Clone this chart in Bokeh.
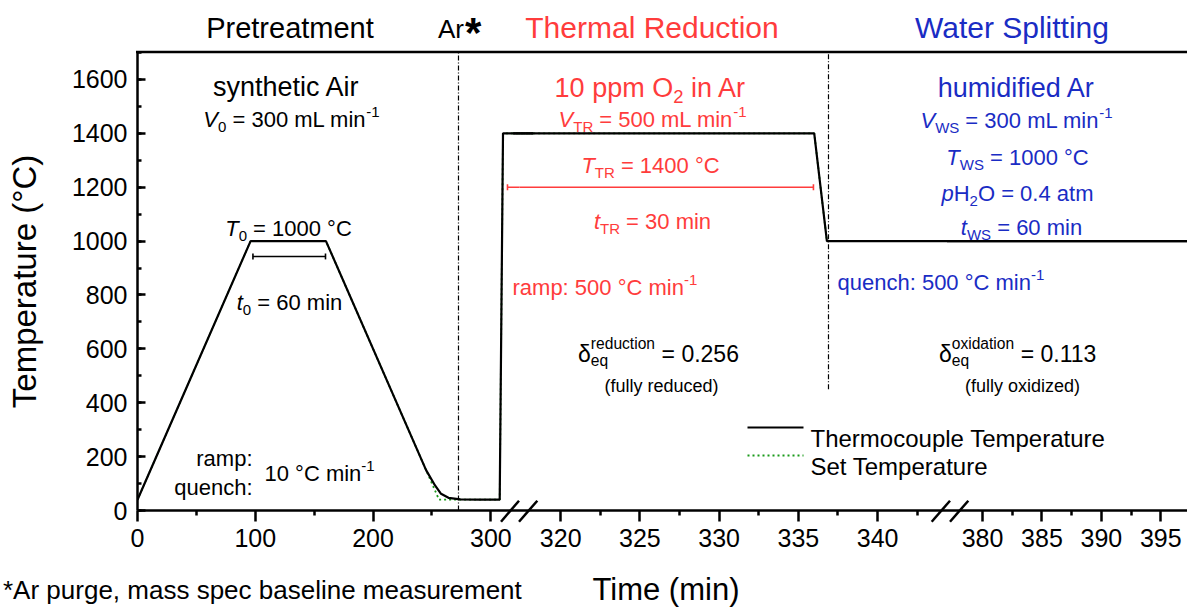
import math
from bokeh.plotting import figure
from bokeh.models import (Range1d, FixedTicker, CustomJSTickFormatter, Label,
                          SingleIntervalTicker, GridBox, Div)
from bokeh.embed import file_html
from bokeh.resources import INLINE

# ---------------- data ----------------
time_min = [0, 96, 160, 245, 252.6, 257.7, 264, 274, 290, 307.5, 310.3, 317, 336.0, 336.8, 377, 397.5]
thermocouple_C = [40, 1000, 1000, 150, 93, 62, 47, 41, 40, 40, 1400, 1400, 1400, 1000, 1000, 1000]
set_time_min = [0, 96, 160, 256, 307.5, 310.3, 317, 336.0, 336.8, 377, 397.5]
set_C = [40, 1000, 1000, 40, 40, 1400, 1400, 1400, 1000, 1000, 1000]

# broken time axis: three windows (minutes)
segment_windows = [(0.0, 324.3), (317.4, 344.6), (377.3, 397.25)]
major_ticks = [[0, 100, 200, 300], [320, 325, 330, 335, 340], [380, 385, 390, 395]]
minor_ticks = [[50, 150, 250], [322.5, 327.5, 332.5, 337.5, 342.5], [382.5, 387.5, 392.5]]

# phase markers (minutes)
ar_purge_end = 272.5
reduction_end = 336.9
t0_bar = (98.0, 159.6, 943)
tTR_bar = (314.1, 335.95, 1200)

RED = "#ff3c3c"
BLUE = "#1a2cc4"
FONT = "Liberation Sans"

# ---------------- layout geometry (canvas pixels) ----------------
W, H = 1187, 607
FL, FR, FT, FB = 137, 1187, 52, 510
segment_px = [(137, 519), (519, 950), (950, 1187)]
YMAX = 1700


def T_of(py):
    return (FB - py) * YMAX / (FB - FT)


p = figure(width=W, height=H, x_range=Range1d(FL, FR), y_range=Range1d(0, YMAX),
           output_backend="svg", toolbar_location=None,
           min_border_left=FL, min_border_right=0, min_border_top=FT, min_border_bottom=H - FB)
p.outline_line_color = None
p.grid.visible = False
p.background_fill_color = "white"

# ---------------- axes ----------------
yax = p.yaxis[0]
yax.ticker = SingleIntervalTicker(interval=200, num_minor_ticks=2)
yax.major_label_text_font = FONT
yax.major_label_text_font_size = "25px"
yax.major_label_text_color = "black"
yax.axis_line_width = 2.5
yax.major_tick_in = 8
yax.major_tick_out = 0
yax.minor_tick_in = 4
yax.minor_tick_out = 0
yax.major_tick_line_width = 2.5
yax.minor_tick_line_width = 2.5
yax.major_label_standoff = 10
yax.axis_label = "Temperature (°C)"
yax.axis_label_text_font = FONT
yax.axis_label_text_font_size = "33px"
yax.axis_label_text_font_style = "normal"
yax.axis_label_text_color = "black"
yax.axis_label_standoff = 26


def to_px(t, k):
    t0, t1 = segment_windows[k]
    x0, x1 = segment_px[k]
    return x0 + (t - t0) * (x1 - x0) / (t1 - t0)


maj = [to_px(t, k) for k in range(3) for t in major_ticks[k]]
mnr = [to_px(t, k) for k in range(3) for t in minor_ticks[k]]
xax = p.xaxis[0]
xax.ticker = FixedTicker(ticks=maj, minor_ticks=mnr)
segs_js = [[segment_windows[k][0], segment_windows[k][1], segment_px[k][0], segment_px[k][1]] for k in range(3)]
xax.formatter = CustomJSTickFormatter(code="""
const segs = %s;
for (const s of segs) {
  if (tick >= s[2] - 0.5 && tick < s[3]) {
    const t = s[0] + (tick - s[2]) * (s[1] - s[0]) / (s[3] - s[2]);
    return String(Math.round(t));
  }
}
return "";
""" % segs_js)
xax.major_label_text_font = FONT
xax.major_label_text_font_size = "25px"
xax.major_label_text_color = "black"
xax.axis_line_width = 2.5
xax.major_tick_in = 0
xax.major_tick_out = 11
xax.minor_tick_in = 0
xax.minor_tick_out = 5
xax.major_tick_line_width = 2.5
xax.minor_tick_line_width = 2.5
xax.major_label_standoff = 7

# ---------------- data through sub-coordinate systems ----------------
subs = []
for k in range(3):
    t0, t1 = segment_windows[k]
    x0, x1 = segment_px[k]
    subs.append(p.subplot(x_source=Range1d(t0, t1), y_source=p.y_range,
                          x_target=Range1d(x0, x1), y_target=p.y_range))


def window(ts, vs, t0, t1):
    idx = set()
    for i in range(len(ts) - 1):
        if max(ts[i], t0) < min(ts[i + 1], t1):
            idx.update((i, i + 1))
    idx = sorted(idx)
    return [ts[i] for i in idx], [vs[i] for i in idx]


for k, sub in enumerate(subs):
    t0, t1 = segment_windows[k]
    xs, ys = window(set_time_min, set_C, t0, t1)
    sub.line(xs, ys, line_color="#1a9a1a", line_width=1.8, line_dash="2 3")
for k, sub in enumerate(subs):
    t0, t1 = segment_windows[k]
    xs, ys = window(time_min, thermocouple_C, t0, t1)
    sub.line(xs, ys, line_color="black", line_width=2.2)

# phase separators
subs[0].segment(x0=[ar_purge_end], y0=[0], x1=[ar_purge_end], y1=[YMAX],
                line_color="black", line_width=1.2, line_dash="5 2 1 2")
subs[1].segment(x0=[reduction_end], y0=[450], x1=[reduction_end], y1=[YMAX],
                line_color="black", line_width=1.2, line_dash="5 2 1 2")

# duration bars
cap = 11
a, b, yb = t0_bar
subs[0].segment(x0=[a, a, b], y0=[yb, yb - cap, yb - cap], x1=[b, a, b], y1=[yb, yb + cap, yb + cap],
                line_color="black", line_width=1.6)
a, b, yb = tTR_bar
subs[0].segment(x0=[a, a], y0=[yb, yb - cap], x1=[segment_windows[0][1], a], y1=[yb, yb + cap],
                line_color=RED, line_width=1.6)
subs[1].segment(x0=[segment_windows[1][0], b], y0=[yb, yb - cap], x1=[b, b], y1=[yb, yb + cap],
                line_color=RED, line_width=1.6)

# ---------------- text helpers ----------------
AW = {' ': 278, '!': 278, '(': 333, ')': 333, '*': 389, ',': 278, '-': 333, '.': 278,
      '/': 278, ':': 278, '=': 584, '°': 400, 'δ': 556,
      'A': 667, 'B': 667, 'C': 722, 'D': 722, 'E': 667, 'F': 611, 'G': 778, 'H': 722, 'I': 278,
      'J': 500, 'K': 667, 'L': 556, 'M': 833, 'N': 722, 'O': 778, 'P': 667, 'Q': 778, 'R': 722,
      'S': 667, 'T': 611, 'U': 722, 'V': 667, 'W': 944, 'X': 667, 'Y': 667, 'Z': 611,
      'a': 556, 'b': 556, 'c': 500, 'd': 556, 'e': 556, 'f': 278, 'g': 556, 'h': 556, 'i': 222,
      'j': 222, 'k': 500, 'l': 222, 'm': 833, 'n': 556, 'o': 556, 'p': 556, 'q': 556, 'r': 333,
      's': 500, 't': 278, 'u': 556, 'v': 500, 'w': 722, 'x': 500, 'y': 500, 'z': 500}


def tw(s, size):
    return sum(AW.get(c, 556) for c in s) / 1000.0 * size


def put(text, x, py, size, color, style="normal", align="left"):
    if align == "left":
        lead = len(text) - len(text.lstrip(" "))
        x += tw(" " * lead, size)
    text = text.strip(" ")
    p.add_layout(Label(x=x, y=T_of(py), text=text, text_font=FONT, text_font_size="%.1fpx" % size,
                       text_color=color, text_font_style=style, text_align=align,
                       text_baseline="alphabetic"))


def rich(parts, x, py, size, color, align="center"):
    r = 0.68
    items = []
    total = 0.0
    for text, st in parts:
        if st == "stack":
            w = max(tw(text[0], size * r), tw(text[1], size * r))
        elif st in ("sub", "sup"):
            w = tw(text, size * r)
        else:
            w = tw(text, size)
        items.append((text, st, w))
        total += w
    cur = x - total / 2 if align == "center" else (x - total if align == "right" else x)
    for text, st, w in items:
        if st == "stack":
            put(text[0], cur, py + 0.30 * size, size * r, color)
            put(text[1], cur, py - 0.43 * size, size * r, color)
        elif st == "sub":
            put(text, cur, py + 0.34 * size, size * r, color)
        elif st == "sup":
            put(text, cur, py - 0.34 * size, size * r, color)
        elif st == "i":
            put(text, cur, py, size, color, style="italic")
        else:
            put(text, cur, py, size, color)
        cur += w


K = "black"

# pretreatment
rich([("synthetic Air", "n")], 286, 86, 27, K)
rich([("V", "i"), ("0", "sub"), (" = 300 mL min", "n"), ("-1", "sup")], 291, 119, 22, K)
rich([("T", "i"), ("0", "sub"), (" = 1000 °C", "n")], 288, 228, 22, K)
rich([("t", "i"), ("0", "sub"), (" = 60 min", "n")], 289, 302, 22, K)
put("ramp:", 252, 458, 22, K, align="right")
put("quench:", 252, 487, 22, K, align="right")
rich([("10 °C min", "n"), ("-1", "sup")], 264, 473, 22, K, align="left")

# thermal reduction
rich([("10 ppm O", "n"), ("2", "sub"), (" in Ar", "n")], 650, 87, 27, RED)
rich([("V", "i"), ("TR", "sub"), (" = 500 mL min", "n"), ("-1", "sup")], 652, 119, 22, RED)
rich([("T", "i"), ("TR", "sub"), (" = 1400 °C", "n")], 650, 165, 22, RED)
rich([("t", "i"), ("TR", "sub"), (" = 30 min", "n")], 652, 221, 22, RED)
rich([("ramp: 500 °C min", "n"), ("-1", "sup")], 512, 287, 22, RED, align="left")

# water splitting
rich([("humidified Ar", "n")], 1016, 87, 27, BLUE)
rich([("V", "i"), ("WS", "sub"), (" = 300 mL min", "n"), ("-1", "sup")], 1016, 120, 22, BLUE)
rich([("T", "i"), ("WS", "sub"), (" = 1000 °C", "n")], 1017, 157, 22, BLUE)
rich([("p", "i"), ("H", "n"), ("2", "sub"), ("O = 0.4 atm", "n")], 1017, 193, 22, BLUE)
rich([("t", "i"), ("WS", "sub"), (" = 60 min", "n")], 1021, 227, 22, BLUE)
rich([("quench: 500 °C min", "n"), ("-1", "sup")], 837, 282, 22, BLUE, align="left")

# equilibrium nonstoichiometry
rich([("δ", "n"), (("eq", "reduction"), "stack"), (" = 0.256", "n")], 658, 353, 23, K)
put("(fully reduced)", 661, 385, 18, K, align="center")
rich([("δ", "n"), (("eq", "oxidation"), "stack"), (" = 0.113", "n")], 1018, 353, 23, K)
put("(fully oxidized)", 1022, 385, 18, K, align="center")

# legend
p.line([747, 803], [T_of(427), T_of(427)], line_color="black", line_width=2)
p.line([747, 803], [T_of(455), T_of(455)], line_color="#1a9a1a", line_width=1.8, line_dash="2 3")
put("Thermocouple Temperature", 810, 438, 24, K)
put("Set Temperature", 810, 466, 24, K)

# ---------------- overlay for items outside the plot frame ----------------
headers = [
    ("Pretreatment", 290, 38, 29, K, "middle", "normal"),
    ("Ar", 438, 38, 26, K, "start", "normal"),
    ("*", 465, 47, 42, K, "start", "bold"),
    ("Thermal Reduction", 652, 38, 30, RED, "middle", "normal"),
    ("Water Splitting", 1012, 38, 30, BLUE, "middle", "normal"),
    ("Time (min)", 666, 600, 31, K, "middle", "normal"),
    ("*Ar purge, mass spec baseline measurement", 3, 599, 26, K, "start", "normal"),
]
svg = ['<svg xmlns="http://www.w3.org/2000/svg" width="%d" height="%d" '
       'style="position:absolute;left:0;top:0;overflow:visible;pointer-events:none">' % (W, H)]
for text, x, y, size, color, anchor, weight in headers:
    svg.append('<text x="%s" y="%s" font-family="%s" font-size="%s" fill="%s" text-anchor="%s" '
               'font-weight="%s">%s</text>' % (x, y, FONT, size, color, anchor, weight, text))
svg.append('<line x1="%s" y1="%s" x2="%s" y2="%s" stroke="black" stroke-width="2.5"/>' % (FL - 1, FT, W, FT))
for (xa, xb) in [(501, 519), (519, 537.3), (931.7, 950), (950, 968.3)]:
    svg.append('<line x1="%s" y1="521.7" x2="%s" y2="500.7" stroke="black" stroke-width="2.5"/>' % (xa, xb))
svg.append('</svg>')
overlay = Div(text="".join(svg), width=W, height=H, styles={"margin": "0", "padding": "0"})

layout = GridBox(children=[(p, 0, 0), (overlay, 0, 0)])
open("out.html", "w").write(file_html(layout, INLINE))
